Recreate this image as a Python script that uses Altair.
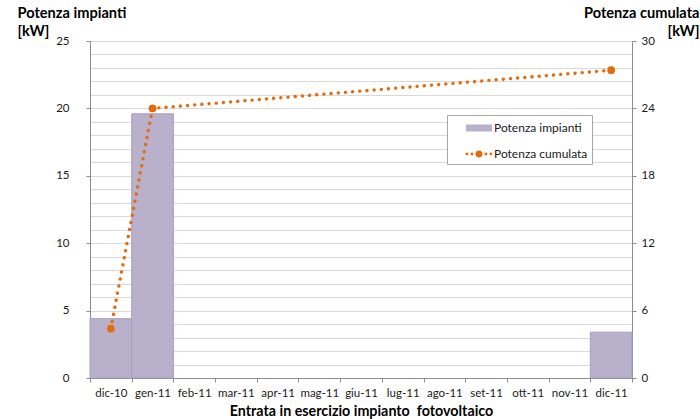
import altair as alt
import pandas as pd

# Months of entry into service
mesi = ["dic-10", "gen-11", "feb-11", "mar-11", "apr-11", "mag-11", "giu-11",
        "lug-11", "ago-11", "set-11", "ott-11", "nov-11", "dic-11"]
# Power installed each month [kW]
potenza_impianti = [4.4, 19.6, None, None, None, None, None, None, None, None, None, None, 3.4]
# Cumulative power [kW]
potenza_cumulata = [4.4, 24.0, None, None, None, None, None, None, None, None, None, None, 27.4]

serie = ["Potenza impianti", "Potenza cumulata"]
tick_sinistra = list(range(0, 26))
tick_destra = [0, 6, 12, 18, 24, 30]

VIOLA = "#b9b0cc"
ARANCIO = "#e46c0a"
GRIGIO = "#8c8c8c"
FONT = "Lato"

df = pd.DataFrame({
    "mese": mesi,
    "impianti": potenza_impianti,
    "cumulata": potenza_cumulata,
})
df_legenda = pd.DataFrame({"serie": serie})


def cerchio(cx, cy, r):
    return f"M{cx - r},{cy}A{r},{r} 0 1,0 {cx + r},{cy}A{r},{r} 0 1,0 {cx - r},{cy}Z"


# legend symbols: a flat swatch for the bars, a dotted line with a marker for the series
simbolo_barre = "M0.67,-0.39H3.56V0.39H0.67Z"
simbolo_linea = "".join([
    cerchio(0.78, 0, 0.16), cerchio(1.33, 0, 0.16), cerchio(2.11, 0, 0.4),
    cerchio(2.89, 0, 0.16), cerchio(3.44, 0, 0.16),
])

x_enc = alt.X(
    "mese:N",
    sort=mesi,
    scale=alt.Scale(domain=mesi, paddingInner=0, paddingOuter=0),
    axis=alt.Axis(
        title="Entrata in esercizio impianto\u00a0 fotovoltaico",
        labelAngle=0, tickBand="extent", tickSize=4, tickColor=GRIGIO,
        domainColor=GRIGIO, labelPadding=5, grid=False,
        titleY=37.5, titleBaseline="alphabetic", titleFontSize=14.3,
    ),
)


def legenda():
    return alt.Legend(
        title=None, orient="none", legendX=357, legendY=74,
        fillColor="white", strokeColor="#a6a6a6", padding=4,
        symbolSize=324, labelOffset=25, rowPadding=11,
        symbolStrokeWidth=0, symbolOpacity=1,
        labelFontSize=12, labelColor="#1a1a1a",
        labelExpr="datum.label + '\u00a0\u00a0\u00a0\u00a0\u00a0\u00a0\u00a0\u00a0'",
    )


barre = alt.Chart(df).mark_bar(color=VIOLA, stroke="#a99dc2", strokeWidth=1).encode(
    x=x_enc,
    y=alt.Y(
        "impianti:Q",
        scale=alt.Scale(domain=[0, 25], nice=False),
        axis=alt.Axis(
            orient="left", values=tick_sinistra,
            labelExpr="datum.value % 5 === 0 ? datum.label : ''",
            labelOverlap=False,
            tickOpacity={"condition": {"test": "datum.value % 5 === 0", "value": 1}, "value": 0},
            grid=True, gridColor="#d9d9d9", domainColor=GRIGIO, tickColor=GRIGIO,
            tickSize=4, labelPadding=17,
            title=["Potenza impianti", "[kW]"], titleAngle=0, titleAlign="left",
            titleBaseline="alphabetic", titleX=-73, titleY=-24, titleLineHeight=18,
            titleFontSize=14.6,
        ),
    ),
)

# invisible marks that only carry the legend entries
voci_legenda = alt.Chart(df_legenda).mark_point(filled=True, opacity=0).encode(
    color=alt.Color("serie:N", scale=alt.Scale(domain=serie, range=[VIOLA, ARANCIO]), legend=legenda()),
    shape=alt.Shape("serie:N", scale=alt.Scale(domain=serie, range=[simbolo_barre, simbolo_linea]), legend=legenda()),
)

base_cumulata = alt.Chart(df).transform_filter("isValid(datum.cumulata)").encode(
    x=x_enc,
    y=alt.Y(
        "cumulata:Q",
        scale=alt.Scale(domain=[0, 30], nice=False),
        axis=alt.Axis(
            orient="right", values=tick_destra, grid=False,
            domainColor=GRIGIO, tickColor=GRIGIO, tickSize=4, labelPadding=5,
            title=["Potenza cumulata", "[kW]"], titleAngle=0, titleAlign="right",
            titleBaseline="alphabetic", titleX=67, titleY=-24, titleLineHeight=18,
            titleFontSize=14.6,
        ),
    ),
)

linea = base_cumulata.mark_line(
    color=ARANCIO, strokeWidth=3.4, strokeDash=[0.1, 7.1], strokeCap="round"
)
punti = base_cumulata.mark_circle(color=ARANCIO, size=60, opacity=1)

chart = (
    alt.layer(barre, voci_legenda, alt.layer(linea, punti))
    .resolve_scale(y="independent")
    .properties(
        width=542, height=337,
        padding={"left": 90, "top": 41, "right": 68, "bottom": 41},
        autosize=alt.AutoSizeParams(type="none"),
    )
    .configure_view(stroke=None)
    .configure_axis(
        labelFont=FONT, titleFont=FONT, labelFontSize=11.5, labelColor="#1a1a1a",
        titleColor="#000000", titleFontWeight="bold",
    )
    .configure_legend(labelFont=FONT)
)

chart.save("out.html", embed_options={"renderer": "svg", "actions": False})
